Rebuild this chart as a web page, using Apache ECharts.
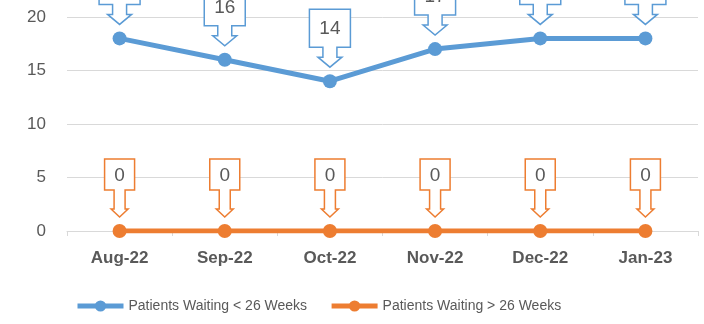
<!DOCTYPE html>
<html>
<head>
<meta charset="utf-8">
<script src="https://cdn.jsdelivr.net/npm/echarts@6/dist/echarts.min.js"></script>
<style>
  html, body { margin: 0; padding: 0; background: #fff; }
  #chart { width: 704px; height: 324px; }
</style>
</head>
<body>
<div id="chart"></div>
<script>
// Monthly waiting-list counts
const months = ['Aug-22', 'Sep-22', 'Oct-22', 'Nov-22', 'Dec-22', 'Jan-23'];
const under26 = [18, 16, 14, 17, 18, 18];
const over26 = [0, 0, 0, 0, 0, 0];
const seriesNames = ['Patients Waiting < 26 Weeks', 'Patients Waiting > 26 Weeks'];
const yTicks = [0, 5, 10, 15, 20];

const BLUE = '#5b9bd5';
const ORANGE = '#ed7d31';
const TEXT = '#595959';
const FONT = '"Liberation Sans", Arial, sans-serif';

// Down-arrow callout drawn above each point, holding the point's value
function callout(color, box) {
  return function (params, api) {
    const p = api.coord([api.value(0), api.value(1)]);
    const x = p[0];
    const tip = p[1] - box.gap;
    const neck = tip - box.headLen;
    const bottom = neck - box.shaftLen;
    const top = bottom - box.h;
    const hw = box.w / 2, sw = box.shaftW / 2, hd = box.headW / 2;
    const pts = [
      [x - hw, top], [x + hw, top], [x + hw, bottom], [x + sw, bottom],
      [x + sw, neck], [x + hd, neck], [x, tip], [x - hd, neck],
      [x - sw, neck], [x - sw, bottom], [x - hw, bottom]
    ];
    return {
      type: 'group',
      children: [
        {
          type: 'polygon',
          shape: { points: pts },
          style: { fill: '#fff', stroke: color, lineWidth: 1.5 }
        },
        {
          type: 'text',
          style: {
            text: String(api.value(1)),
            x: x, y: (top + bottom) / 2 + 1,
            align: 'center', verticalAlign: 'middle',
            fill: TEXT, fontSize: 19, fontFamily: FONT
          }
        }
      ]
    };
  };
}

const chart = echarts.init(document.getElementById('chart'), null, { renderer: 'canvas' });

chart.setOption({
  animation: false,
  backgroundColor: '#fff',
  grid: { left: 67, right: 6, top: 17, height: 214, containLabel: false },
  legend: {
    data: seriesNames,
    left: 70,
    top: 294,
    itemWidth: 46,
    itemHeight: 14,
    itemGap: 22,
    lineStyle: { width: 5 },
    textStyle: { color: TEXT, fontSize: 14, fontFamily: FONT }
  },
  xAxis: {
    type: 'category',
    data: months,
    boundaryGap: true,
    axisLine: { lineStyle: { color: '#d9d9d9', width: 1 } },
    axisTick: { show: true, length: 5, lineStyle: { color: '#d9d9d9' } },
    axisLabel: { color: TEXT, fontSize: 17, fontWeight: 'bold', fontFamily: FONT, margin: 19 }
  },
  yAxis: {
    type: 'value',
    min: yTicks[0],
    max: yTicks[yTicks.length - 1],
    interval: yTicks[1] - yTicks[0],
    axisLine: { show: false },
    axisTick: { show: false },
    splitLine: { lineStyle: { color: '#d9d9d9', width: 1 } },
    axisLabel: { color: TEXT, fontSize: 17, fontFamily: FONT, margin: 21 }
  },
  series: [
    {
      name: seriesNames[0],
      type: 'line',
      data: under26,
      color: BLUE,
      symbol: 'circle',
      symbolSize: 14,
      lineStyle: { width: 5, color: BLUE },
      itemStyle: { color: BLUE },
      z: 3
    },
    {
      name: seriesNames[1],
      type: 'line',
      data: over26,
      color: ORANGE,
      symbol: 'circle',
      symbolSize: 14,
      lineStyle: { width: 5, color: ORANGE },
      itemStyle: { color: ORANGE },
      z: 3
    },
    {
      name: 'under26Callouts',
      type: 'custom',
      data: under26.map((v, i) => [i, v]),
      renderItem: callout(BLUE, { w: 41, h: 38, shaftW: 14, headW: 24, shaftLen: 10, headLen: 10, gap: 14 }),
      clip: false,
      z: 4,
      silent: true
    },
    {
      name: 'over26Callouts',
      type: 'custom',
      data: over26.map((v, i) => [i, v]),
      renderItem: callout(ORANGE, { w: 30, h: 31, shaftW: 11, headW: 17, shaftLen: 19, headLen: 8, gap: 14 }),
      clip: false,
      z: 4,
      silent: true
    }
  ]
});
</script>
</body>
</html>
